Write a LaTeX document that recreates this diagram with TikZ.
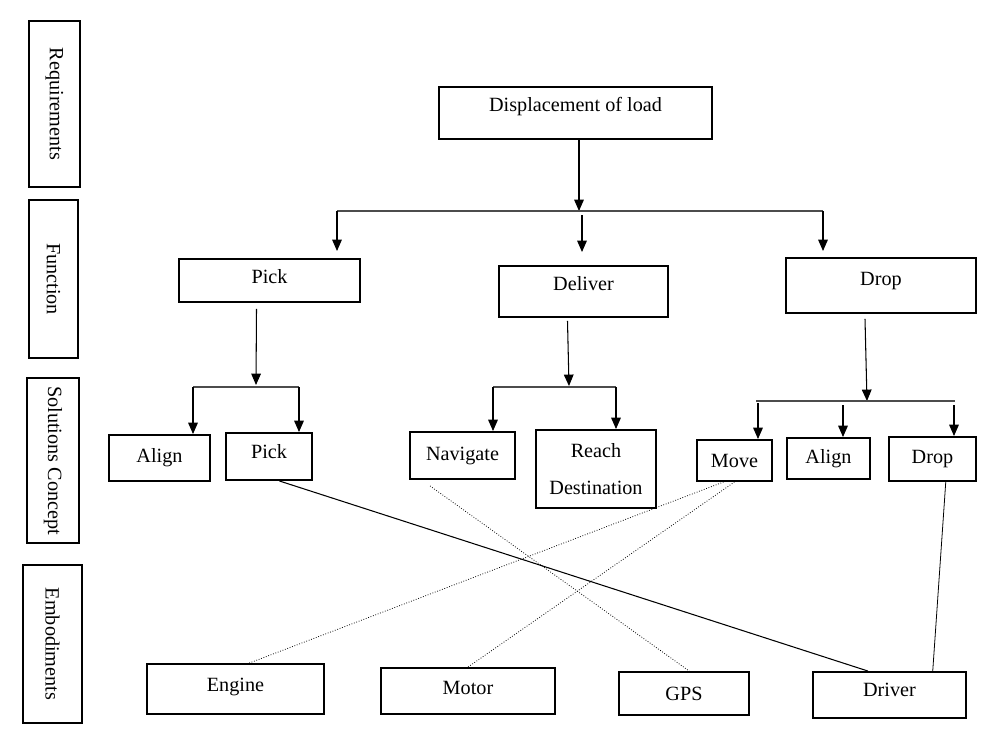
\documentclass[tikz,border=0pt]{standalone}
\usepackage{fontspec}
\setmainfont{Liberation Serif}
\usetikzlibrary{arrows.meta}
\tikzstyle{box} = [draw, line width=1.1pt, inner sep=2pt, font=\fontsize{11.5}{13}\selectfont]
\tikzstyle{side} = [box, rotate=-90]
\tikzstyle{arrow} = [line width=0.6pt, -{Triangle[width=5.5pt,length=6.5pt]}]
\tikzstyle{bar} = [line width=0.6pt, black!70]
\tikzstyle{link} = [line width=0.6pt]
\tikzstyle{fine} = [line width=0.45pt, densely dotted]

\begin{document}
\begin{tikzpicture}[x=0.02cm, y=-0.02cm]
	\useasboundingbox (0,0) rectangle (984,730);
	\node [side, minimum width=3.32cm, minimum height=1.02cm] (req) at (54.5,104) {Requirements};
	\node [side, minimum width=3.16cm, minimum height=0.98cm] (fun) at (53.5,279) {Function};
	\node [side, minimum width=3.30cm, minimum height=1.04cm] (sol) at (53,460.5) {Solutions Concept};
	\node [side, minimum width=3.16cm, minimum height=1.18cm] (emb) at (52.5,644) {Embodiments};

	\node [box, minimum width=5.46cm, minimum height=1.04cm, text depth=10pt] (disp) at (575.5,113) {Displacement of load};
	\node [box, minimum width=3.62cm, minimum height=0.86cm, text depth=5pt] (pickf) at (269.5,280.5) {Pick};
	\node [box, minimum width=3.38cm, minimum height=1.02cm, text depth=9pt] (deliver) at (583.5,291.5) {Deliver};
	\node [box, minimum width=3.80cm, minimum height=1.10cm, text depth=7pt] (dropf) at (881,285.5) {Drop};

	\node [box, minimum width=2.02cm, minimum height=0.92cm] (align1) at (159.5,458) {Align};
	\node [box, minimum width=1.72cm, minimum height=0.94cm, text depth=6pt] (pick2) at (269,456.5) {Pick};
	\node [box, minimum width=2.10cm, minimum height=0.94cm] (nav) at (462.5,455.5) {Navigate};
	\node [box, minimum width=2.40cm, minimum height=1.56cm, align=center] (reach) at (596,469) {Reach\\[8pt]Destination};
	\node [box, minimum width=1.50cm, minimum height=0.82cm] (move) at (734.5,460.5) {Move};
	\node [box, minimum width=1.66cm, minimum height=0.82cm] (align2) at (828.5,458.5) {Align};
	\node [box, minimum width=1.74cm, minimum height=0.88cm] (drop2) at (932.5,459) {Drop};

	\node [box, minimum width=3.54cm, minimum height=1.00cm, text depth=5pt] (engine) at (235.5,689) {Engine};
	\node [box, minimum width=3.48cm, minimum height=0.92cm, text depth=4pt] (motor) at (468,691) {Motor};
	\node [box, minimum width=2.60cm, minimum height=0.86cm] (gps) at (684,693.5) {GPS};
	\node [box, minimum width=3.06cm, minimum height=0.92cm, text depth=6pt] (driver) at (889.5,695) {Driver};

	\coordinate (b1l) at (337,211);
	\coordinate (b1r) at (823,211);
	\coordinate (b1m) at (582,215);
	\coordinate (b2l) at (193,387);
	\coordinate (b2r) at (299,387);
	\coordinate (b3l) at (493,387);
	\coordinate (b3r) at (616,387);
	\coordinate (b4l) at (756,401);
	\coordinate (b4r) at (955,401);
	\coordinate (b4m) at (843,405);

	\draw [arrow] (disp.south -| 579,0) -- (579,211);
	\draw [bar] (b1l) -- (b1r);
	\draw [arrow] (b1l) -- (337,251);
	\draw [arrow] (b1m) -- (582,252);
	\draw [arrow] (b1r) -- (823,251);

	\draw [arrow] (pickf.south) ++(-13,6) -- (256,385);
	\draw [bar] (b2l) -- (b2r);
	\draw [arrow] (b2l) -- (align1.north -| b2l);
	\draw [arrow] (b2r) -- (pick2.north -| b2r);

	\draw [arrow] (deliver.south) ++(-16,3) -- (569,386);
	\draw [bar] (b3l) -- (b3r);
	\draw [arrow] (b3l) -- (nav.north -| b3l);
	\draw [arrow] (b3r) -- (reach.north -| b3r);

	\draw [arrow] (dropf.south) ++(-16,5) -- (867,401);
	\draw [bar] (b4l) -- (b4r);
	\draw [arrow] (758,403) -- (move.north -| 758,0);
	\draw [arrow] (b4m) -- (align2.north -| b4m);
	\draw [arrow] (954,405) -- (drop2.north -| 954,0);

	\draw [link] (pick2.293) -- (driver.132);
	\draw [fine] (nav.217) ++(0,6) -- (gps.77);
	\draw [fine] (move.243) -- (engine.62);
	\draw [fine] (move.south) -- (motor.north);
	\draw [link, line width=0.45pt] (drop2.300) -- (driver.29);
\end{tikzpicture}
\end{document}
